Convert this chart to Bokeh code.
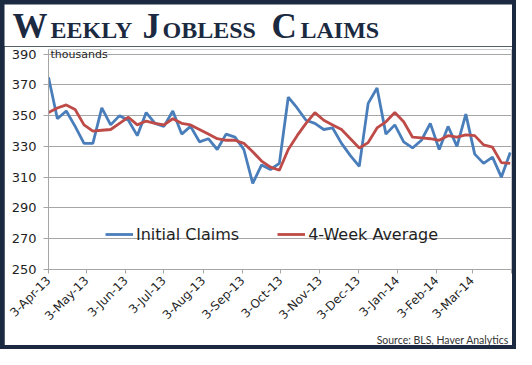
import math
import pandas as pd
from bokeh.plotting import figure
from bokeh.layouts import column, row
from bokeh.core.properties import value
from bokeh.models import Range1d, FixedTicker, Label, Legend, LegendItem, Title, Spacer
from bokeh.embed import file_html
from bokeh.resources import INLINE

# ---------------- data ----------------
start_date = "2013-04-03"
n_weeks = 53
initial_claims = [375, 348, 353, 343, 332, 332, 355, 344, 350, 347,
                  337, 352, 345, 343, 353, 338, 343, 333, 335, 328,
                  338, 336, 328, 306, 318, 315, 319, 362, 355, 347,
                  345, 341, 342, 332, 324, 317, 358, 368, 338, 344,
                  333, 329, 334, 345, 328, 343, 330, 351, 325, 319,
                  323, 310, 326]
four_week_avg = [352, 355, 357, 354, 344, 340, 340.5, 341, 345, 349,
                 344, 346.5, 345, 344, 348, 345, 344, 341, 338, 335,
                 334, 334, 332, 326.5, 320.5, 316.5, 314.5, 328, 337, 345,
                 352, 347, 344, 341, 335, 329, 332.5, 342, 346, 352,
                 346, 336, 335.5, 335, 334, 337, 336, 337.5, 337, 331,
                 329.5, 319.5, 319]
x_tick_labels = ["3-Apr-13", "3-May-13", "3-Jun-13", "3-Jul-13", "3-Aug-13",
                 "3-Sep-13", "3-Oct-13", "3-Nov-13", "3-Dec-13", "3-Jan-14",
                 "3-Feb-14", "3-Mar-14", ""]
y_ticks = [250, 270, 290, 310, 330, 350, 370, 390]
series_names = ["Initial Claims", "4-Week Average"]
title_words = ["Weekly", "Jobless", "Claims"]
unit_text = "thousands"
source_text = "Source:  BLS, Haver Analytics"

start = pd.Timestamp(start_date)
week_dates = pd.date_range(start, periods=n_weeks, freq="7D")
x_days = [int(d) for d in (week_dates - start).days]
tick_dates = pd.date_range(start, periods=len(x_tick_labels), freq=pd.DateOffset(months=1))
tick_days = [int(d) for d in (tick_dates - start).days]

# ---------------- styling ----------------
NAVY = "#1b2a41"
GRID = "#a6a6a6"
BLUE = "#4a7ebb"
RED = "#be4b48"
TXT = "#1f1f1f"
B = 4
W_IN, H_IN = 516 - 2 * B, 349 - 2 * B
TITLE_H = 42
BIG, SMALL = 35, 24

# ---------- title strip (small caps) ----------
tf = figure(width=W_IN, height=TITLE_H, output_backend="svg", toolbar_location=None,
            title_location=None, frame_align=False,
            x_range=Range1d(0, W_IN), y_range=Range1d(0, TITLE_H),
            x_axis_type=None, y_axis_type=None,
            min_border_left=0, min_border_right=0, min_border_top=0, min_border_bottom=0)
tf.outline_line_color = None
tf.xgrid.grid_line_color = None
tf.ygrid.grid_line_color = None
cap_x = [8, 138, 267]
rest_x = [46, 158, 296]
baseline = 8.5
tf.text(x=cap_x, y=[baseline + 0.33 * BIG] * 3, text=[w[0].upper() for w in title_words],
        text_font=value("Liberation Serif"), text_font_style="bold",
        text_font_size=f"{BIG}px", text_color=NAVY, text_baseline="alphabetic")
tf.text(x=rest_x, y=[baseline + 0.33 * SMALL] * 3, text=[w[1:].upper() for w in title_words],
        text_font=value("Liberation Serif"), text_font_style="bold",
        text_font_size=f"{SMALL}px", text_color=NAVY, text_baseline="alphabetic")

# ---------- main chart ----------
p = figure(width=W_IN, height=H_IN - TITLE_H, output_backend="svg",
           toolbar_location=None, title_location=None, frame_align=False,
           x_range=Range1d(0, tick_days[-1]), y_range=Range1d(250, 393),
           min_border_left=44, min_border_right=1, min_border_top=3,
           min_border_bottom=68)
p.outline_line_color = None

p.yaxis.ticker = FixedTicker(ticks=y_ticks)
p.yaxis.axis_line_color = GRID
p.yaxis.major_tick_line_color = GRID
p.yaxis.major_tick_out = 5
p.yaxis.major_tick_in = 0
p.yaxis.minor_tick_line_color = None
p.yaxis.major_label_standoff = 7
p.yaxis.major_label_text_font = "DejaVu Sans"
p.yaxis.major_label_text_font_size = "13px"
p.yaxis.major_label_text_color = TXT

p.xaxis.ticker = FixedTicker(ticks=tick_days)
p.xaxis.major_label_overrides = {t: lab for t, lab in zip(tick_days, x_tick_labels)}
p.xaxis.major_label_orientation = math.pi / 4
p.xaxis.axis_line_color = GRID
p.xaxis.major_tick_line_color = GRID
p.xaxis.major_tick_out = 4
p.xaxis.major_tick_in = 0
p.xaxis.minor_tick_line_color = None
p.xaxis.major_label_standoff = 5
p.xaxis.major_label_text_font = "DejaVu Sans"
p.xaxis.major_label_text_font_size = "12px"
p.xaxis.major_label_text_color = TXT

p.xgrid.grid_line_color = None
p.ygrid.grid_line_color = GRID
p.ygrid.grid_line_width = 1

r1 = p.line(x_days, initial_claims, line_color=BLUE, line_width=2.8)
r2 = p.line(x_days, four_week_avg, line_color=RED, line_width=2.8)

legend = Legend(items=[LegendItem(label=series_names[0], renderers=[r1]),
                       LegendItem(label=series_names[1], renderers=[r2])],
                orientation="horizontal", location=(57, 25))
legend.background_fill_alpha = 0
legend.border_line_color = None
legend.label_text_font = "DejaVu Sans"
legend.label_text_font_size = "16px"
legend.label_text_color = TXT
legend.glyph_width = 28
legend.label_standoff = 3
legend.spacing = 38
legend.padding = 0
legend.margin = 0
p.add_layout(legend)

p.add_layout(Label(x=0, y=389.5, x_offset=2, text=unit_text, text_baseline="middle",
                   text_font="DejaVu Sans", text_font_size="11px", text_color=TXT))

src = Title(text=source_text, align="right", text_font="Lato", text_font_size="10.5px",
            text_font_style="normal", text_color="#333333", standoff=0, offset=0)
p.add_layout(src, "below")

navy = {"background-color": NAVY}
inner = column(tf, p, spacing=0)
body = row(Spacer(width=B, height=H_IN, styles=navy), inner,
           Spacer(width=B, height=H_IN, styles=navy), spacing=0)
layout = column(Spacer(width=516, height=B, styles=navy), body,
                Spacer(width=516, height=B, styles=navy), spacing=0,
                styles=navy)

open("out.html", "w").write(file_html(layout, INLINE))
